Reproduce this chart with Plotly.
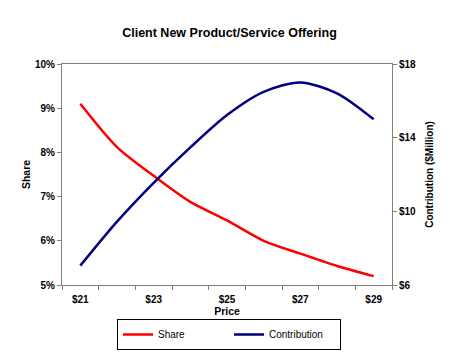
import plotly.graph_objects as go

prices = [21, 22, 23, 24, 25, 26, 27, 28, 29]
share = [0.0910, 0.0812, 0.0747, 0.0688, 0.0646, 0.0600, 0.0571, 0.0543, 0.0520]
contribution = [7.05, 9.44, 11.55, 13.47, 15.23, 16.49, 17.0, 16.41, 15.0]
price_labels = ["$21", "$23", "$25", "$27", "$29"]
price_label_vals = [21, 23, 25, 27, 29]
share_ticks = [0.05, 0.06, 0.07, 0.08, 0.09, 0.10]
contrib_ticks = [6, 10, 14, 18]
contrib_labels = ["$6", "$10", "$14", "$18"]

FONT = "Arial, Liberation Sans, sans-serif"
GRAY = "#808080"

fig = go.Figure()
fig.add_trace(go.Scatter(x=prices, y=share, name="Share", mode="lines",
                         line=dict(color="#FF0000", width=2.5, shape="spline", smoothing=0.8),
                         yaxis="y"))
fig.add_trace(go.Scatter(x=prices, y=contribution, name="Contribution", mode="lines",
                         line=dict(color="#000080", width=2.5, shape="spline", smoothing=0.8),
                         yaxis="y2"))

fig.update_layout(
    width=450, height=353,
    margin=dict(l=62, r=58, t=64, b=68, autoexpand=False),
    paper_bgcolor="white", plot_bgcolor="white",
    font=dict(family=FONT, size=10, color="black"),
    title=dict(text="<b>Client New Product/Service Offering</b>", x=0.51, xanchor="center",
               y=1 - 33 / 353, yanchor="middle", font=dict(size=12.5, family=FONT)),
    xaxis=dict(range=[20.5, 29.5], tickvals=price_label_vals, ticktext=price_labels,
               ticks="outside", ticklen=5, tickcolor="rgba(0,0,0,0)",
               showgrid=False, zeroline=False, automargin=False,
               showline=True, linecolor=GRAY, linewidth=1, mirror=True,
               tickfont=dict(size=10, family=FONT, weight="bold"),
               minor=dict(tickvals=[20.5 + i for i in range(10)], ticks="outside",
                          ticklen=4, tickcolor=GRAY, showgrid=False),
               title=dict(text="<b>Price</b>", standoff=3, font=dict(size=10.5, family=FONT))),
    yaxis=dict(range=[0.05, 0.10], tickvals=share_ticks, tickformat=".0%",
               ticks="outside", ticklen=4, tickcolor=GRAY, showgrid=False, zeroline=False,
               showline=True, linecolor=GRAY, linewidth=1, automargin=False,
               tickfont=dict(size=10, family=FONT, weight="bold"),
               title=dict(text="<b>Share</b>", standoff=2, font=dict(size=10.5, family=FONT))),
    yaxis2=dict(range=[6, 18], tickvals=contrib_ticks, ticktext=contrib_labels,
                overlaying="y", side="right",
                ticks="outside", ticklen=4, tickcolor=GRAY, showgrid=False, zeroline=False,
                showline=True, linecolor=GRAY, linewidth=1, automargin=False,
                tickfont=dict(size=10, family=FONT, weight="bold"),
                title=dict(text="<b>Contribution ($Million)</b>", standoff=10,
                           font=dict(size=10, family=FONT))),
    legend=dict(orientation="h", x=229 / 450, xanchor="center", xref="container",
                y=1 - 319 / 353, yanchor="top", yref="container",
                bordercolor="black", borderwidth=1, entrywidth=66,
                font=dict(size=10, family=FONT), itemwidth=30,
                tracegroupgap=0),
    showlegend=True,
)

fig.write_html("out.html")
